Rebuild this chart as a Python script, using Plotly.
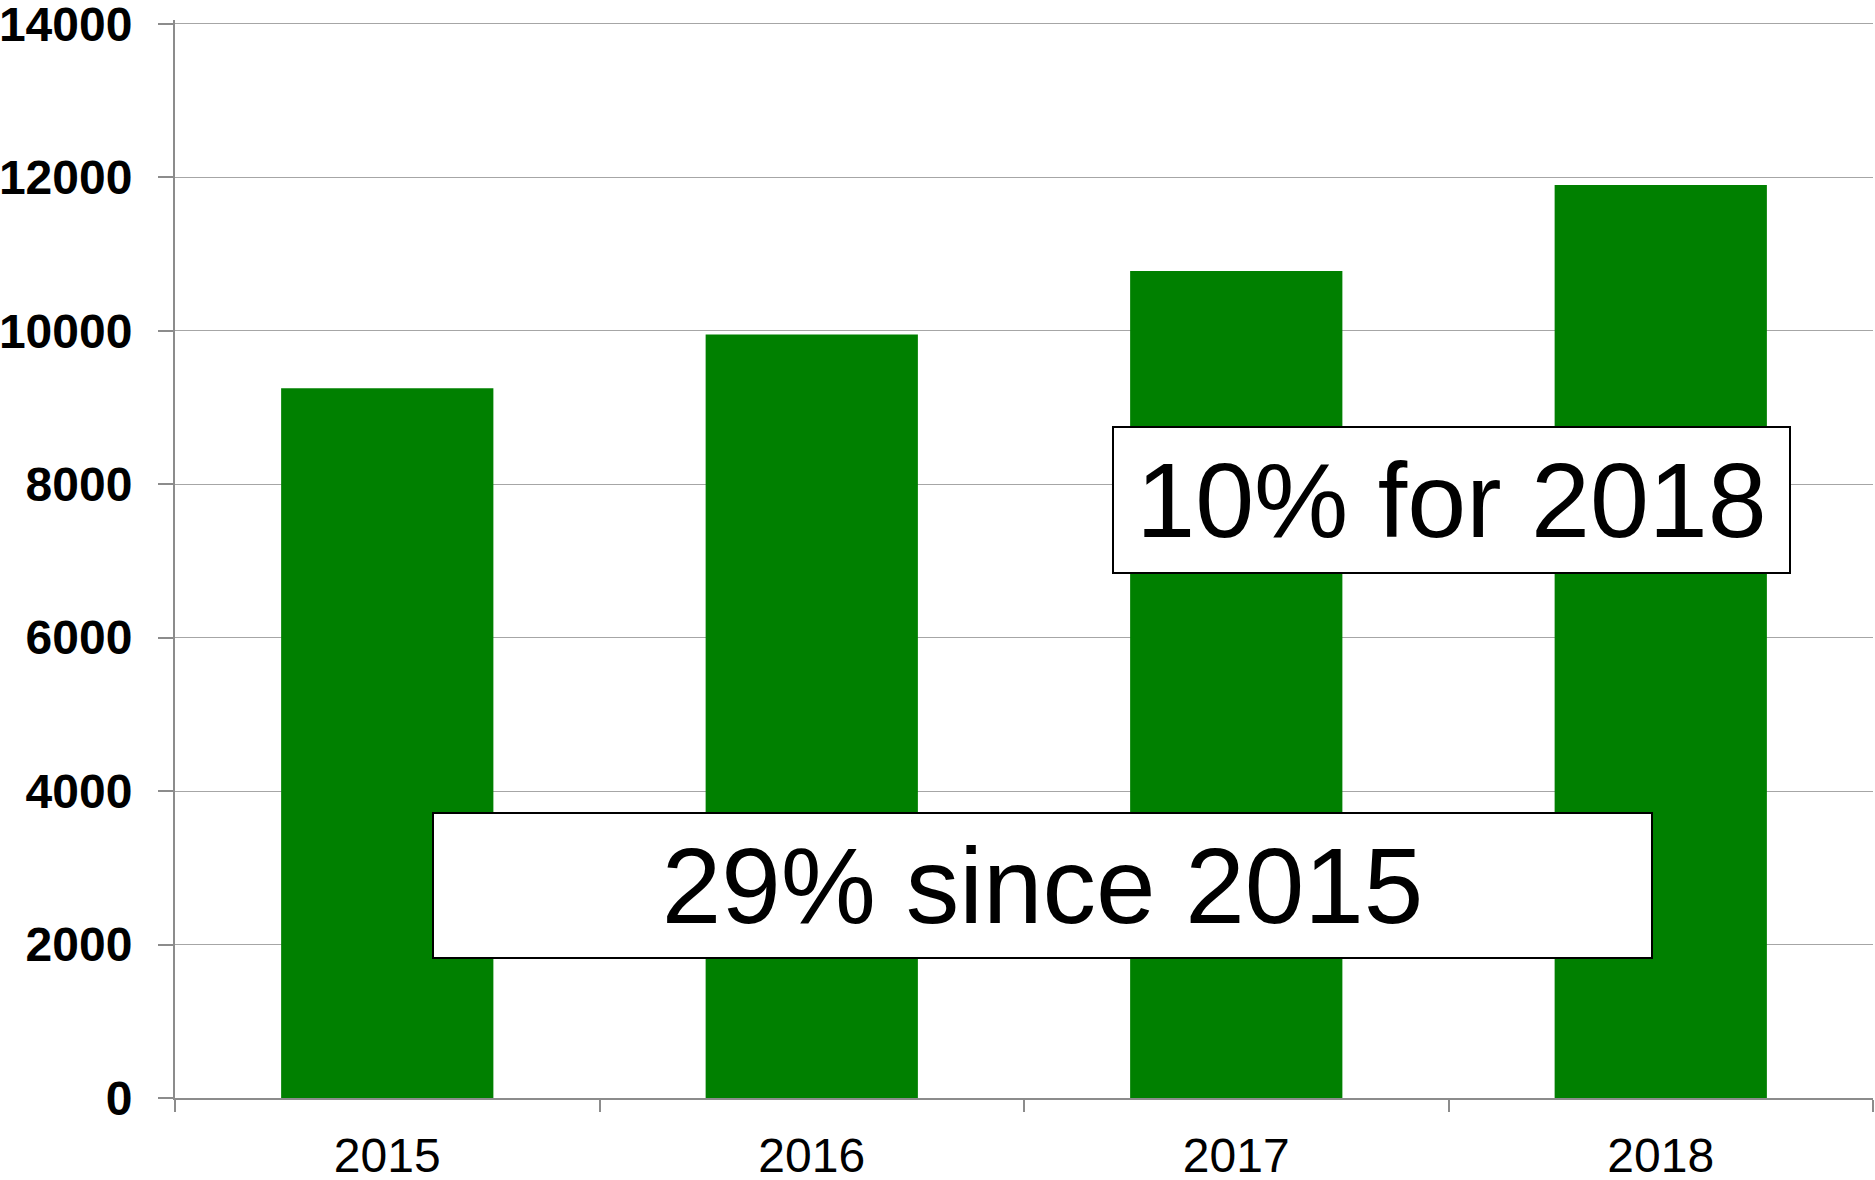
import plotly.graph_objects as go

years = ["2015", "2016", "2017", "2018"]
values = [9250, 9950, 10780, 11900]
y_ticks = [0, 2000, 4000, 6000, 8000, 10000, 12000, 14000]
note_year = "10% for 2018"
note_since = "29% since 2015"

FONT = "Liberation Sans, Arial, Helvetica, sans-serif"
GRID = "#a6a6a6"
AXIS = "#8c8c8c"

fig = go.Figure(
    go.Bar(x=years, y=values, marker=dict(color="#008000", line=dict(width=0)), width=0.5)
)

fig.update_layout(
    width=1875, height=1180,
    margin=dict(l=175, r=2, t=20, b=82),
    paper_bgcolor="white", plot_bgcolor="white",
    showlegend=False,
    bargap=0.5,
    font=dict(family=FONT, color="black"),
)

fig.update_xaxes(
    type="category",
    automargin=False,
    showline=True, linecolor=AXIS, linewidth=2,
    ticks="outside", tickson="boundaries", ticklen=12, tickcolor=AXIS, tickwidth=1.5,
    tickfont=dict(size=48, family=FONT, color="black"),
    ticklabelstandoff=14,
    showgrid=False,
    range=[-0.5, 3.5],
)

fig.update_yaxes(
    range=[0, 14050],
    automargin=False,
    tickvals=y_ticks,
    ticktext=[str(v) for v in y_ticks],
    showline=True, linecolor=AXIS, linewidth=2,
    ticks="outside", ticklen=15, tickcolor=AXIS, tickwidth=1.5,
    showgrid=True, gridcolor=GRID, gridwidth=1.3,
    zeroline=False,
    tickfont=dict(size=48, family=FONT, color="black", weight="bold"),
    ticklabelstandoff=16,
    ticklabeloverflow="allow",
)

fig.add_annotation(
    xref="paper", yref="paper", x=0.752, y=0.5548,
    xanchor="center", yanchor="middle",
    text=note_year, showarrow=False,
    font=dict(size=106, family=FONT, color="black"),
    bgcolor="white", bordercolor="black", borderwidth=2, borderpad=0,
    width=675, height=144,
)

fig.add_annotation(
    xref="paper", yref="paper", x=0.5108, y=0.197,
    xanchor="center", yanchor="middle",
    text=note_since, showarrow=False,
    font=dict(size=107, family=FONT, color="black"),
    bgcolor="white", bordercolor="black", borderwidth=2, borderpad=0,
    width=1217, height=143,
)

fig.write_html(
    "out.html",
    config={"displayModeBar": False},
    post_script="document.body.style.margin='0';document.body.style.overflow='hidden';",
)
